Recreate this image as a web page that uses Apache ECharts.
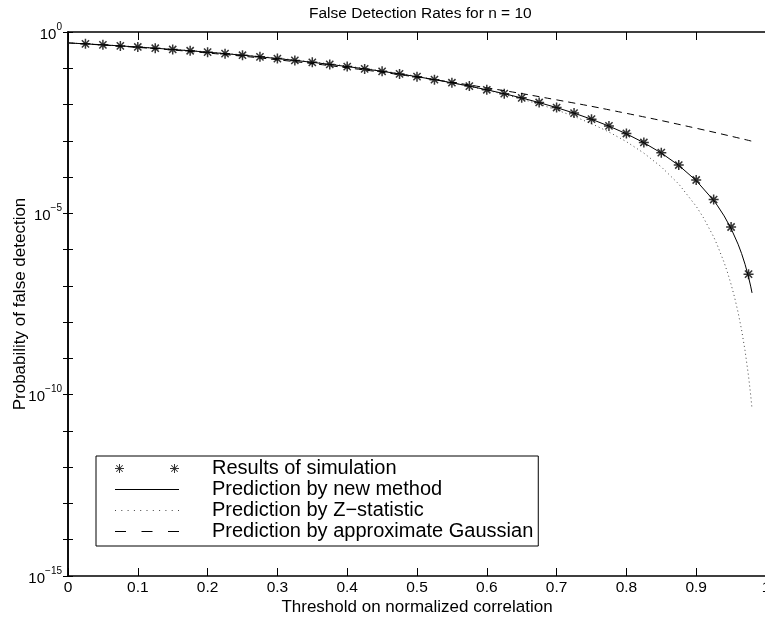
<!DOCTYPE html>
<html>
<head>
<meta charset="utf-8">
<script src="https://cdn.jsdelivr.net/npm/echarts@6/dist/echarts.min.js"></script>
<style>
  html, body { margin: 0; padding: 0; background: #fff; }
  #chart { width: 765px; height: 626px; }
</style>
</head>
<body>
<div id="chart"></div>
<script>
// simulation results (stars)
const xSim = [0.025, 0.05, 0.075, 0.1, 0.125, 0.15, 0.175, 0.2, 0.225, 0.25,
  0.275, 0.3, 0.325, 0.35, 0.375, 0.4, 0.425, 0.45, 0.475, 0.5,
  0.525, 0.55, 0.575, 0.6, 0.625, 0.65, 0.675, 0.7, 0.725, 0.75,
  0.775, 0.8, 0.825, 0.85, 0.875, 0.9, 0.925, 0.95, 0.975]
const ySim = [0.472, 0.443, 0.414, 0.386, 0.357, 0.330, 0.304, 0.278, 0.253, 0.229,
  0.207, 0.185, 0.165, 0.146, 0.128, 0.111, 0.0962, 0.0823, 0.0698, 0.0587,
  0.0486, 0.0399, 0.0322, 0.0255, 0.0199, 0.0153, 0.0114, 0.00826, 0.00582, 0.00395,
  0.00257, 0.00159, 9.0e-4, 4.7e-4, 2.15e-4, 8.3e-5, 2.4e-5, 4.2e-6, 2.1e-7]

// prediction by new method (solid)
const xNew = [0, 0.025, 0.05, 0.075, 0.1, 0.125, 0.15, 0.175, 0.2, 0.225, 0.25,
  0.275, 0.3, 0.325, 0.35, 0.375, 0.4, 0.425, 0.45, 0.475, 0.5,
  0.525, 0.55, 0.575, 0.6, 0.625, 0.65, 0.675, 0.7, 0.725, 0.75,
  0.775, 0.8, 0.825, 0.85, 0.875, 0.9, 0.925, 0.93, 0.94, 0.95,
  0.96, 0.965, 0.97, 0.975, 0.978, 0.98]
const yNew = [0.5, 0.4709, 0.4420, 0.4133, 0.3849, 0.3571, 0.3299, 0.3034, 0.2777, 0.2530, 0.2292,
  0.2066, 0.1851, 0.1648, 0.1457, 0.1279, 0.1114, 0.0963, 0.0824, 0.0699, 0.0586,
  0.0486, 0.0398, 0.0321, 0.0255, 0.0199, 0.0152, 0.0113, 0.00824, 0.00579, 0.00393,
  0.00254, 0.00156, 8.86e-4, 4.60e-4, 2.10e-4, 8.0e-5, 2.27e-5, 1.68e-5, 8.50e-6, 3.80e-6,
  1.41e-6, 7.81e-7, 3.93e-7, 1.74e-7, 9.85e-8, 6.4e-8]

// prediction by Z-statistic (dotted)
const xZ = [0, 0.05, 0.1, 0.15, 0.2, 0.25, 0.3, 0.35, 0.4, 0.45,
  0.5, 0.55, 0.6, 0.625, 0.65, 0.675, 0.7, 0.725, 0.75, 0.775,
  0.8, 0.825, 0.85, 0.875, 0.9, 0.91, 0.925, 0.93, 0.94, 0.945,
  0.95, 0.955, 0.96, 0.965, 0.97, 0.975, 0.978, 0.98]
const yZ = [0.5, 0.4437, 0.3883, 0.3345, 0.2832, 0.2350, 0.1907, 0.1507, 0.1154, 0.0852,
  0.0601, 0.0401, 0.0250, 0.0190, 0.0142, 0.0102, 0.00710, 0.00472, 0.00297, 0.00175,
  9.46e-4, 4.58e-4, 1.91e-4, 6.43e-5, 1.56e-5, 7.80e-6, 2.25e-6, 1.36e-6, 4.43e-7, 2.29e-7,
  1.10e-7, 4.82e-8, 1.86e-8, 6.13e-9, 1.63e-9, 3.22e-10, 9.95e-11, 4.06e-11]

// prediction by approximate Gaussian (dashed)
const xGauss = [0, 0.1, 0.2, 0.3, 0.4, 0.5, 0.6, 0.7, 0.8, 0.9, 0.98]
const yGauss = [0.5, 0.3759, 0.2636, 0.1714, 0.1030, 0.0569, 0.0289, 0.01346, 0.00572, 0.00222, 9.73e-4]

const names = ['Results of simulation', 'Prediction by new method',
  'Prediction by Z\u2212statistic', 'Prediction by approximate Gaussian']

const font = 'Liberation Sans, Arial, Helvetica, sans-serif'

// matlab style '*' marker drawn as four thin bars
function bar(x1, y1, x2, y2, h) {
  const dx = x2 - x1, dy = y2 - y1
  const len = Math.sqrt(dx * dx + dy * dy)
  const nx = -dy / len * h, ny = dx / len * h
  const p = [[x1 + nx, y1 + ny], [x2 + nx, y2 + ny], [x2 - nx, y2 - ny], [x1 - nx, y1 - ny]]
  return 'M' + p.map(q => q[0].toFixed(2) + ' ' + q[1].toFixed(2)).join('L') + 'Z'
}
function asterisk(cx, cy, r, h) {
  const d = r * 0.72
  return bar(cx, cy - r, cx, cy + r, h) + bar(cx - r, cy, cx + r, cy, h) +
    bar(cx - d, cy - d, cx + d, cy + d, h) + bar(cx - d, cy + d, cx + d, cy - d, h)
}
function rects(list) {
  return 'path://' + list.map(r => 'M' + r[0] + ' 0H' + (r[0] + r[1]) + 'V1H' + r[0] + 'Z').join('')
}
const starSymbol = 'path://' + asterisk(5, 5, 5, 0.75)
const iconWidth = 64
const starIcon = 'path://' + asterisk(4.5, 4.5, 4.5, 0.5) + asterisk(iconWidth - 4.5, 4.5, 4.5, 0.5)
const solidIcon = rects([[0, iconWidth]])
const dashIcon = rects([[0, 11], [26.5, 11], [53, 11]])
const dotIcon = rects([0, 6.3, 12.6, 18.9, 25.2, 31.5, 37.8, 44.1, 50.4, 56.7, 63].map(x => [x, 1]))

const pairs = (xs, ys) => xs.map((x, i) => [x, ys[i]])

function expLabel(v) {
  const e = Math.round(Math.log10(v))
  if (e % 5 !== 0) return ''
  return '{b|10}{s|' + (e === 0 ? '0' : '\u2212' + (-e)) + '}'
}

const chart = echarts.init(document.getElementById('chart'))

const axisLine = { show: true, lineStyle: { color: '#000', width: 1.5 } }

chart.setOption({
  animation: false,
  backgroundColor: '#fff',
  textStyle: { fontFamily: font, color: '#000' },
  title: {
    text: 'False Detection Rates for n = 10',
    left: 304, top: 1,
    textStyle: { fontFamily: font, fontSize: 15.5, fontWeight: 'normal', color: '#000' }
  },
  grid: { left: 68, right: -1, top: 32, bottom: 50, outerBoundsMode: 'none', containLabel: false },
  legend: {
    orient: 'vertical',
    left: 96, top: 456,
    padding: [2, 5, 4, 19],
    itemGap: 0,
    itemWidth: iconWidth,
    itemHeight: 9,
    backgroundColor: '#fff',
    borderColor: '#000',
    borderWidth: 1,
    textStyle: { fontFamily: font, fontSize: 20, color: '#000', lineHeight: 21, padding: [0, 0, 0, 28] },
    data: [
      { name: names[0], icon: starIcon },
      { name: names[1], icon: solidIcon },
      { name: names[2], icon: dotIcon },
      { name: names[3], icon: dashIcon }
    ]
  },
  xAxis: [{
    type: 'value', min: 0, max: 1, interval: 0.1, position: 'bottom',
    name: 'Threshold on normalized correlation', nameLocation: 'middle', nameGap: 23,
    nameMoveOverlap: false,
    nameTextStyle: { fontFamily: font, fontSize: 17, color: '#000' },
    axisLine: axisLine,
    axisTick: { inside: true, length: 8, lineStyle: { color: '#000' } },
    axisLabel: { color: '#000', fontFamily: font, fontSize: 15.5, margin: 4, showMaxLabel: true, hideOverlap: false },
    splitLine: { show: false }
  }, {
    type: 'value', min: 0, max: 1, interval: 0.1, position: 'top',
    axisLine: axisLine,
    axisTick: { inside: true, length: 8, lineStyle: { color: '#000' } },
    axisLabel: { show: false },
    splitLine: { show: false }
  }],
  yAxis: [{
    type: 'log', logBase: 10, min: 1e-15, max: 1, position: 'left',
    splitNumber: 15, interval: 1,
    name: 'Probability of false detection', nameLocation: 'middle', nameGap: 39,
    nameMoveOverlap: false,
    nameTextStyle: { fontFamily: font, fontSize: 17, color: '#000' },
    axisLine: axisLine,
    axisTick: { inside: true, length: 5, lineStyle: { color: '#000' } },
    axisLabel: {
      formatter: expLabel, margin: 6,
      rich: {
        b: { fontFamily: font, fontSize: 15, color: '#000', lineHeight: 20, verticalAlign: 'bottom' },
        s: { fontFamily: font, fontSize: 10, color: '#000', lineHeight: 20, verticalAlign: 'top' }
      }
    },
    splitLine: { show: false }
  }, {
    type: 'log', logBase: 10, min: 1e-15, max: 1, position: 'right',
    splitNumber: 15, interval: 1,
    axisLine: axisLine,
    axisTick: { inside: true, length: 5, lineStyle: { color: '#000' } },
    axisLabel: { show: false },
    splitLine: { show: false }
  }],
  series: [{
    name: names[3], type: 'line', data: pairs(xGauss, yGauss),
    symbol: 'none', smooth: true, color: '#000',
    lineStyle: { color: '#000', width: 1, type: [7, 5] }
  }, {
    name: names[2], type: 'line', data: pairs(xZ, yZ),
    symbol: 'none', color: '#444',
    lineStyle: { color: '#444', width: 1, type: [1, 3] }
  }, {
    name: names[1], type: 'line', data: pairs(xNew, yNew),
    symbol: 'none', color: '#000',
    lineStyle: { color: '#000', width: 1 }
  }, {
    name: names[0], type: 'scatter', data: pairs(xSim, ySim),
    symbol: starSymbol, symbolSize: 10, z: 5,
    itemStyle: { color: '#000' }
  }]
})
</script>
</body>
</html>
